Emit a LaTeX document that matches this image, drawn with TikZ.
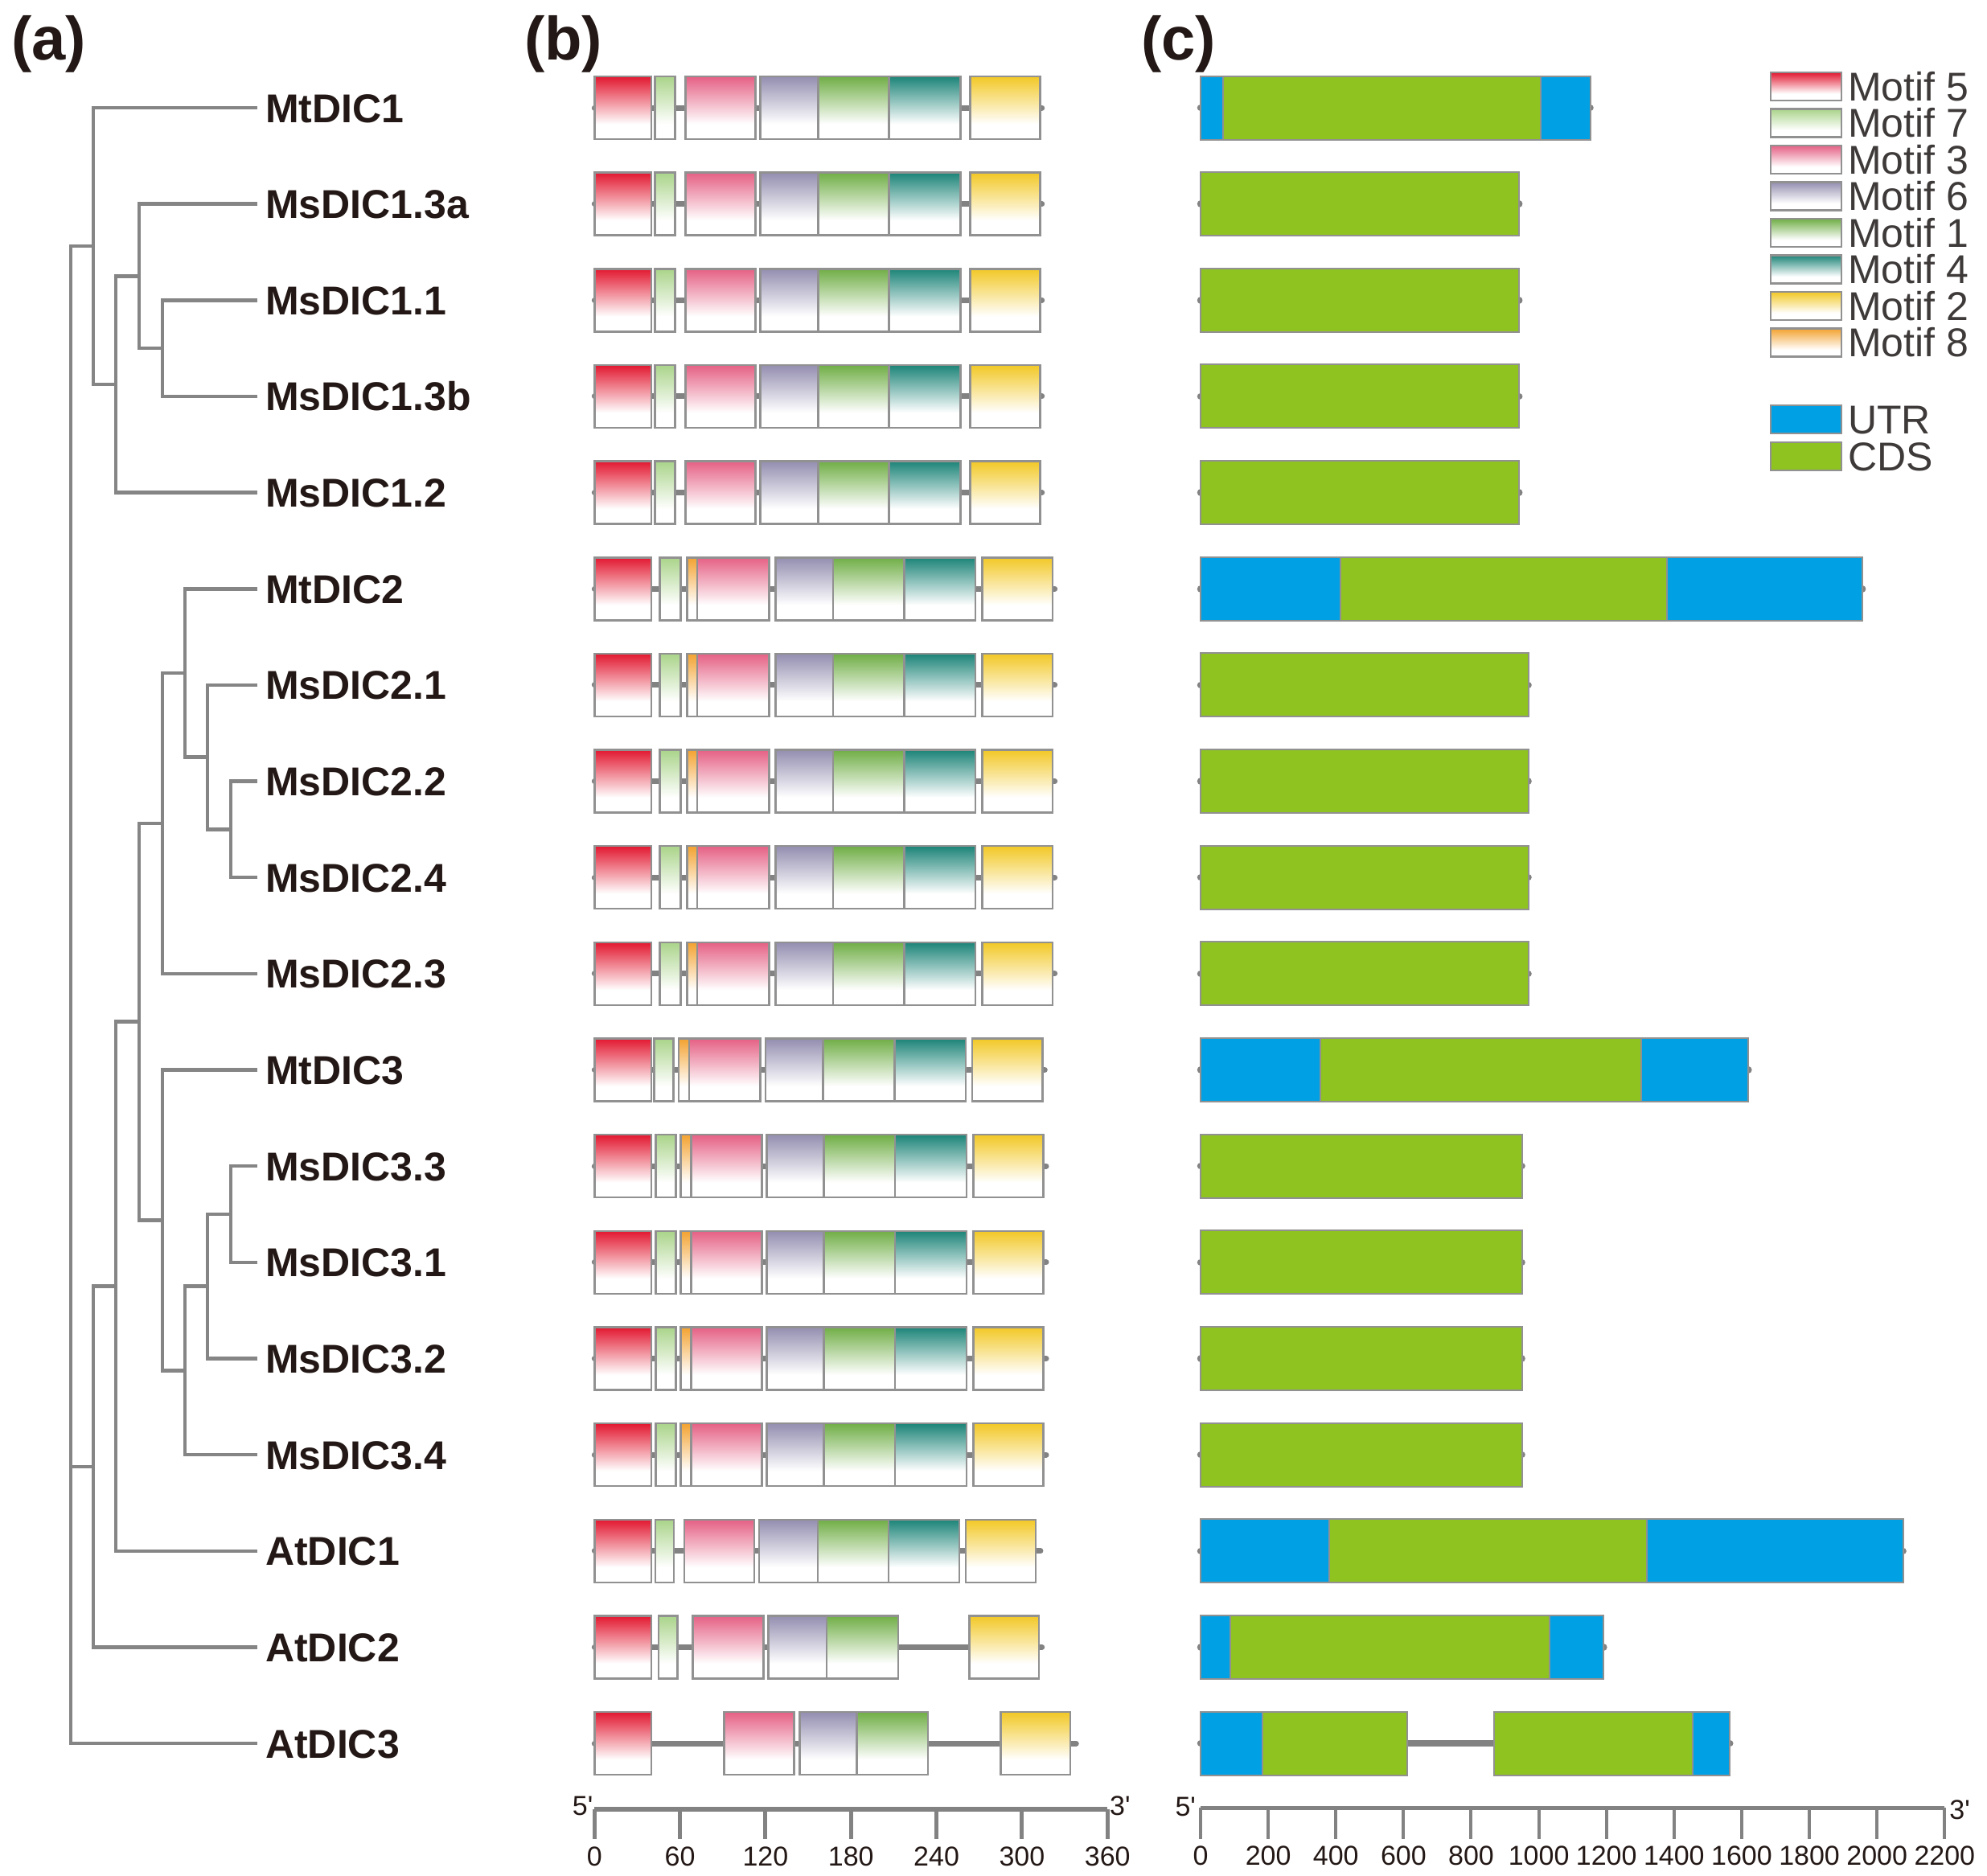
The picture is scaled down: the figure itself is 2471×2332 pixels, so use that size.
\documentclass[tikz,border=0pt]{standalone}
\usepackage{fontspec}
\setmainfont{Liberation Sans}
\newfontfamily\plainsans{Liberation Sans}
\definecolor{cM5}{RGB}{226,24,48}
\definecolor{cM7}{RGB}{170,212,138}
\definecolor{cM3}{RGB}{229,96,132}
\definecolor{cM6}{RGB}{148,142,176}
\definecolor{cM1}{RGB}{112,174,70}
\definecolor{cM4}{RGB}{28,132,120}
\definecolor{cM2}{RGB}{242,200,38}
\definecolor{cM8}{RGB}{243,162,48}
\definecolor{cUTR}{RGB}{0,160,228}
\definecolor{cCDS}{RGB}{143,195,31}
\definecolor{lgray}{RGB}{130,130,130}
\definecolor{tgray}{RGB}{133,133,133}
\definecolor{bgray}{RGB}{145,145,145}
\definecolor{txt}{RGB}{35,24,21}
\definecolor{legtxt}{RGB}{62,58,57}
\pgfdeclareverticalshading{shM5}{100bp}{color(0bp)=(white); color(37bp)=(white); color(75bp)=(cM5); color(100bp)=(cM5)}
\pgfdeclareverticalshading{shM7}{100bp}{color(0bp)=(white); color(37bp)=(white); color(75bp)=(cM7); color(100bp)=(cM7)}
\pgfdeclareverticalshading{shM3}{100bp}{color(0bp)=(white); color(37bp)=(white); color(75bp)=(cM3); color(100bp)=(cM3)}
\pgfdeclareverticalshading{shM6}{100bp}{color(0bp)=(white); color(37bp)=(white); color(75bp)=(cM6); color(100bp)=(cM6)}
\pgfdeclareverticalshading{shM1}{100bp}{color(0bp)=(white); color(37bp)=(white); color(75bp)=(cM1); color(100bp)=(cM1)}
\pgfdeclareverticalshading{shM4}{100bp}{color(0bp)=(white); color(37bp)=(white); color(75bp)=(cM4); color(100bp)=(cM4)}
\pgfdeclareverticalshading{shM2}{100bp}{color(0bp)=(white); color(37bp)=(white); color(75bp)=(cM2); color(100bp)=(cM2)}
\pgfdeclareverticalshading{shM8}{100bp}{color(0bp)=(white); color(37bp)=(white); color(75bp)=(cM8); color(100bp)=(cM8)}
% motif layouts (amino-acid coordinates)
\newcommand\bmA{shM5/0/40,shM7/42.4/56.5,shM3/64/113,shM6/116.5/157,shM1/157/206.6,shM4/206.6/257,shM2/263.6/312.8}
\newcommand\bmB{shM5/0/40,shM7/45.7/60.4,shM8/64.9/72.2,shM3/72.2/122.5,shM6/127/167.5,shM1/167.5/217.3,shM4/217.3/267.4,shM2/272/321.5}
\newcommand\bmT{shM5/0/40,shM7/42/55.5,shM8/59/66.5,shM3/66.5/116.5,shM6/120/160.5,shM1/160.5/210.5,shM4/210.5/260.5,shM2/265/314.5}
\newcommand\bmC{shM5/0/40,shM7/43/57,shM8/60.4/67.7,shM3/67.7/117.4,shM6/121/161,shM1/161/211,shM4/211/261,shM2/266/315}
\newcommand\bmD{shM5/0/40,shM7/42.7/55.6,shM3/63/112,shM6/115.6/156.7,shM1/156.7/206.4,shM4/206.4/256,shM2/260.6/309.7}
\newcommand\bmE{shM5/0/40,shM7/45/58.3,shM3/69/118.6,shM6/122/163,shM1/163/213,shM2/263/312}
\newcommand\bmF{shM5/0/40,shM3/91/140,shM6/144/184,shM1/184/234,shM2/285/334}
% gene structures (bp)
\newcommand\gmA{cUTR/0/66,cCDS/66/1005,cUTR/1005/1152}
\newcommand\gmB{cCDS/0/942}
\newcommand\gmC{cUTR/0/414,cCDS/414/1380,cUTR/1380/1957}
\newcommand\gmD{cCDS/0/969}
\newcommand\gmE{cUTR/0/354,cCDS/354/1302,cUTR/1302/1620}
\newcommand\gmF{cCDS/0/950}
\newcommand\gmG{cUTR/0/381,cCDS/381/1319,cUTR/1319/2077}
\newcommand\gmH{cUTR/0/87,cCDS/87/1031,cUTR/1031/1192}
\newcommand\gmI{cUTR/0/184,cCDS/184/610,cCDS/868/1455,cUTR/1455/1565}
\begin{document}
\begin{tikzpicture}[x=1pt,y=-1pt,
  tree/.style={draw=tgray, line width=4.5pt, line join=miter},
  leaflab/.style={anchor=west, inner sep=0pt, text height=36pt, text depth=0pt, font=\fontsize{50}{60}\selectfont\bfseries, text=txt},
  panel/.style={anchor=base west, inner sep=0pt, font=\fontsize{76}{90}\selectfont\bfseries, text=txt},
  mbox/.style={draw=bgray, line width=2.5pt, shade},
  gbox/.style={draw=bgray, line width=2pt},
  bbone/.style={draw=lgray, line width=7pt, line cap=round},
  cbone/.style={draw=lgray, line width=8.5pt, line cap=round},
  axline/.style={draw=lgray, line width=6pt},
  tickl/.style={draw=lgray, line width=5pt},
  ticklab/.style={inner sep=0pt, text height=24pt, text depth=0pt, font=\plainsans\fontsize{34}{40}\selectfont, text=txt},
  legtext/.style={anchor=west, inner sep=0pt, text height=36pt, text depth=0pt, font=\fontsize{50}{60}\selectfont, text=legtxt},
  ]
\useasboundingbox (0,0) rectangle (2471,2332);
\fill[white] (0,0) rectangle (2471,2332);

% panel labels
\node[panel] (pa) at (14,74) {(a)};
\node[panel] (pb) at (652,74) {(b)};
\node[panel] (pc) at (1419,74) {(c)};

% leaves and labels
\foreach \i/\nm in {0/MtDIC1,1/MsDIC1.3a,2/MsDIC1.1,3/MsDIC1.3b,4/MsDIC1.2,5/MtDIC2,6/MsDIC2.1,7/MsDIC2.2,8/MsDIC2.4,9/MsDIC2.3,10/MtDIC3,11/MsDIC3.3,12/MsDIC3.1,13/MsDIC3.2,14/MsDIC3.4,15/AtDIC1,16/AtDIC2,17/AtDIC3}{
  \pgfmathsetmacro\yy{134+119.65*\i}
  \coordinate (leaf\i) at (320,\yy);
  \node[leaflab] (lab\i) at (330,\yy) {\nm};
}

% internal nodes of the tree
\coordinate (nR) at (88,1237);
\coordinate (nA) at (116,306.0);
\coordinate (nA1) at (144,478.0);
\coordinate (nA2) at (173,343.4);
\coordinate (nA3) at (202,433.1);
\coordinate (nB) at (116,1824.1);
\coordinate (nB1) at (144,1599.7);
\coordinate (nB2) at (173,1270.7);
\coordinate (nC) at (202,1023.9);
\coordinate (nC1) at (230,836.9);
\coordinate (nC2) at (258,941.6);
\coordinate (nC3) at (287,1031.4);
\coordinate (nD) at (202,1517.5);
\coordinate (nD1) at (230,1704.4);
\coordinate (nD2) at (258,1599.7);
\coordinate (nD3) at (287,1510.0);

\foreach \c/\p in {leaf0/nA,nA1/nA,nA2/nA1,leaf4/nA1,leaf1/nA2,nA3/nA2,leaf2/nA3,leaf3/nA3,
  nA/nR,nB/nR,leaf17/nR,nB1/nB,leaf16/nB,nB2/nB1,leaf15/nB1,nC/nB2,nD/nB2,
  nC1/nC,leaf9/nC,leaf5/nC1,nC2/nC1,leaf6/nC2,nC3/nC2,leaf7/nC3,leaf8/nC3,
  leaf10/nD,nD1/nD,nD2/nD1,leaf14/nD1,nD3/nD2,leaf13/nD2,leaf11/nD3,leaf12/nD3}{
  \draw[tree] (\c) -| (\p);
}

% (b) motif structures
\begin{scope}[xshift=739.3pt, x=1.772pt]
\foreach \i/\e/\spec in {0/314/A,1/314/A,2/314/A,3/314/A,4/314/A,5/323/B,6/323/B,7/323/B,8/323/B,9/323/B,10/316/T,11/317/C,12/317/C,13/317/C,14/317/C,15/313/D,16/314/E,17/338/F}{
  \pgfmathsetmacro\yy{134+119.65*\i}
  \draw[bbone] (0,\yy) -- (\e,\yy);
  \edef\speclist{\csname bm\spec\endcsname}
  \foreach \shd/\xa/\xb in \speclist {
    \draw[mbox, shading=\shd] (\xa,\yy-39) rectangle (\xb,\yy+39);
  }
}
\draw[axline] (0,2250) -- (360,2250);
\foreach \t in {0,60,...,360}{
  \draw[tickl] (\t,2250) -- (\t,2287);
  \node[ticklab] (tb\t) at (\t,2308) {\t};
}
\node[ticklab, anchor=east] (b5) at (-1,2245) {5'};
\node[ticklab, anchor=west] (b3) at (361.5,2245) {3'};
\end{scope}

% (c) gene structures
\begin{scope}[xshift=1493pt, x=0.4206pt]
\foreach \i/\e/\spec in {0/1152/A,1/942/B,2/942/B,3/942/B,4/942/B,5/1957/C,6/969/D,7/969/D,8/969/D,9/969/D,10/1620/E,11/950/F,12/950/F,13/950/F,14/950/F,15/2077/G,16/1192/H,17/1565/I}{
  \pgfmathsetmacro\yy{134+119.65*\i}
  \draw[cbone] (0,\yy) -- (\e,\yy);
  \edef\seglist{\csname gm\spec\endcsname}
  \foreach \tp/\xa/\xb in \seglist {
    \draw[gbox, fill=\tp] (\xa,\yy-39.5) rectangle (\xb,\yy+39.5);
  }
}
\draw[axline, line width=5pt] (0,2248) -- (2200,2248);
\foreach \t in {0,200,...,2200}{
  \draw[tickl, line width=4pt] (\t,2248) -- (\t,2287);
  \node[ticklab] (tc\t) at (\t,2307) {\t};
}
\node[ticklab, anchor=east] (c5) at (-14,2246) {5'};
\node[ticklab, anchor=west] (c3) at (2214,2250) {3'};
\end{scope}

% legend
\foreach \k/\shd/\nm in {0/shM5/Motif 5,1/shM7/Motif 7,2/shM3/Motif 3,3/shM6/Motif 6,4/shM1/Motif 1,5/shM4/Motif 4,6/shM2/Motif 2,7/shM8/Motif 8}{
  \pgfmathsetmacro\yy{107.4+45.5*\k}
  \draw[mbox, shading=\shd] (2202,\yy-17.5) rectangle (2290,\yy+17.5);
  \node[legtext] (leg\k) at (2298,\yy) {\nm};
}
\draw[gbox, fill=cUTR] (2202,521.4-17.5) rectangle (2290,521.4+17.5);
\node[legtext] (legu) at (2298,521.4) {UTR};
\draw[gbox, fill=cCDS] (2202,567-17.5) rectangle (2290,567+17.5);
\node[legtext] (legc) at (2298,567) {CDS};
\end{tikzpicture}
\end{document}
